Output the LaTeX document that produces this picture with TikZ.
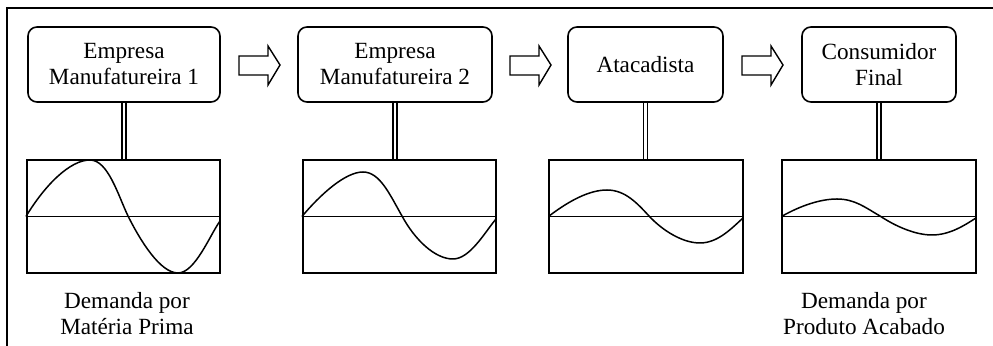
\documentclass[tikz,border=0pt]{standalone}
\usepackage{fontspec}
\setmainfont{Liberation Serif}
\begin{document}
\begin{tikzpicture}[x=0.5pt,y=-0.5pt,
  stage/.style={draw,rounded corners=4.5pt,line width=0.8pt,align=center,inner sep=0pt,
    minimum height=37.5pt,font=\fontsize{11.6}{13}\selectfont},
  chart/.style={draw,line width=0.8pt,minimum width=96.75pt,minimum height=56.5pt,inner sep=0pt},
  flow/.style={draw,line width=0.7pt,line join=miter},
  link/.style={double,double distance=1.1pt,line width=0.8pt},
  wave/.style={line width=0.75pt},
  axis/.style={line width=0.65pt},
  caption/.style={align=center,inner sep=0pt,font=\fontsize{11.6}{13}\selectfont}
]
\useasboundingbox (0,0) rectangle (993,346);
% frame (top and left edges)
\draw[line width=1.1pt] (7,346) -- (7,8) -- (993,8);

% supply chain stages
\node[stage,minimum width=96pt]   (b1) at (124,64.5)   {Empresa\\Manufatureira 1};
\node[stage,minimum width=97pt]   (b2) at (395,64.5)   {Empresa\\Manufatureira 2};
\node[stage,minimum width=77.5pt] (b3) at (645.5,64.5) {Atacadista};
\node[stage,minimum width=77pt]   (b4) at (879,64.5)   {Consumidor\\Final};

% flow arrows (block arrows, anchored at the tail centre)
\coordinate (a1) at (239,65);
\coordinate (a2) at (510,65);
\coordinate (a3) at (742,65);
\foreach \a in {a1,a2,a3}
  \draw[flow] (\a) ++(0,-9) -- ++(29,0) -- ++(0,-10) -- ++(12,19)
    -- ++(-12,20) -- ++(0,-10) -- ++(-29,0) -- cycle;

% demand charts
\node[chart] (c1) at (123.5,216.5) {};
\node[chart] (c2) at (399.5,216.5) {};
\node[chart] (c3) at (646,216.5)   {};
\node[chart] (c4) at (879,216.5)   {};

% links from stages to charts
\foreach \b/\c in {b1/c1,b2/c2,b3/c3,b4/c4}
  \draw[link] (\b.south) -- (\b.south |- \c.north);

% zero lines
\foreach \c in {c1,c2,c3,c4}
  \draw[axis] (\c.west) -- (\c.east);

% demand waves (amplitude shrinking downstream)
\draw[wave] (c1.west) .. controls (45,185) and (70,160) .. (90,160)
  .. controls (108,160) and (118,195) .. (128,216)
  .. controls (140,240) and (160,273) .. (178,273)
  .. controls (195,273) and (210,235) .. (220,221);
\draw[wave] (c2.west) .. controls (320,195) and (345,172) .. (363,172)
  .. controls (380,172) and (390,195) .. (402,216)
  .. controls (415,240) and (435,259) .. (453,259)
  .. controls (470,259) and (485,232) .. (496,219);
\draw[wave] (c3.west) .. controls (570,200) and (590,190) .. (607,190)
  .. controls (625,190) and (637,203) .. (649,216)
  .. controls (662,230) and (682,243) .. (700,243)
  .. controls (718,243) and (732,228) .. (743,218);
\draw[wave] (c4.west) .. controls (800,206) and (820,199) .. (837,199)
  .. controls (855,199) and (866,208) .. (880,216)
  .. controls (895,226) and (915,235) .. (932,235)
  .. controls (950,235) and (965,225) .. (976,218);

% captions
\node[caption] (l1) at (127,314) {Demanda por\\Matéria Prima};
\node[caption] (l4) at (864,314) {Demanda por\\Produto Acabado};
\end{tikzpicture}
\end{document}
